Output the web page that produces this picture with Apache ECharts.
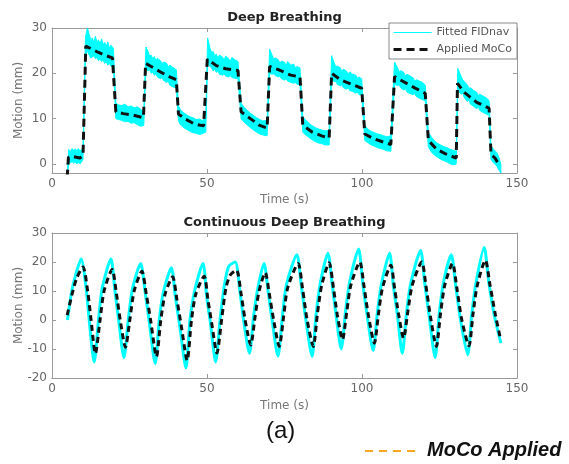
<!DOCTYPE html>
<html>
<head>
<meta charset="utf-8">
<script src="https://cdn.jsdelivr.net/npm/echarts@6/dist/echarts.min.js"></script>
<style>
  html, body { margin: 0; padding: 0; background: #fff; }
  #chart { width: 569px; height: 464px; }
</style>
</head>
<body>
<div id="chart"></div>
<script>
var timeTicks = [0, 50, 100, 150];
var deepTicks = [0, 10, 20, 30];

// Deep Breathing: applied MoCo, [time s, motion mm]
var deepMoco = [
  [4.9, -3], [5.3, 1.5], [7, 1.6], [9, 1.3], [10, 1.8],
  [10.9, 26], [13, 25.3], [15, 24.6], [17, 24], [19.5, 23.4],
  [20.6, 11.5], [23, 11.1], [26, 10.8], [29.5, 10.2],
  [30.2, 22.2], [32, 21.5], [35, 20.3], [38, 19.2], [40.1, 18.6],
  [40.8, 11], [43, 9.9], [46, 8.8], [48.9, 8.4],
  [50.1, 23.1], [53, 21.7], [56, 21], [60, 20.6],
  [61, 11.5], [64, 10], [67, 8.5], [69.4, 7.9],
  [70.2, 21.5], [73, 20.8], [77, 19.6], [80, 19.2],
  [80.9, 8.5], [84, 7], [87, 6.2], [89.4, 5.7],
  [90.2, 20], [93, 18.6], [97, 17.5], [99.9, 16.7],
  [100.9, 6.6], [104, 5.5], [107, 4.8], [109.3, 4.3],
  [110.5, 19.3], [113, 18.3], [117, 16.8], [120.4, 15.6],
  [121.4, 5.2], [124, 3.3], [127, 2.2], [130.4, 1.3],
  [130.8, 17.8], [133, 15.8], [137, 13.6], [141, 12.3],
  [141.6, 2.2], [143, 1.2], [144.3, -0.3]
];

// Deep Breathing: fitted FIDnav band, [time s, low mm, high mm]
var deepFid = [
  [5.0, -2, -1.4], [5.4, 0, 3.2], [6, 0.3, 2.8], [6.5, 0.5, 3.4], [7, 0.2, 3], [7.5, 0.4, 3.3],
  [8, 0, 2.9], [8.5, 0.3, 3.4], [9, 0, 2.8], [9.5, 0.4, 3.2], [10, 1, 3.5],
  [10.8, 24, 28], [11.4, 25, 30], [12, 24, 28.6], [12.5, 23.4, 27.3], [13, 23.6, 27.8], [13.5, 23.9, 26.9],
  [14, 23.2, 28.2], [14.5, 23.5, 26.8], [15, 22.8, 27.4], [15.5, 23.2, 26.5],
  [16, 22.6, 27.6], [16.5, 22.9, 26.4], [17, 22.2, 26.8], [17.5, 22.6, 25.9], [18, 21.8, 26.9],
  [18.5, 22.2, 25.6], [19, 21.6, 26.2], [19.8, 21.5, 25.5],
  [20.6, 10, 13.4], [21.5, 9.8, 13], [22.5, 9.6, 12.9], [23.5, 9.3, 13.2], [24.5, 9.4, 12.6],
  [25.5, 9, 12.8], [26.5, 9.1, 12.4], [27.5, 8.7, 12.6], [28.5, 8.3, 12.1], [29.6, 8.5, 11.5],
  [30.3, 21, 25.8], [31, 20.5, 24.8], [31.5, 20.8, 23.8], [32, 20, 24], [32.5, 20.3, 23.2], [33, 19.6, 23.7],
  [33.5, 19.9, 22.8], [34, 19.2, 23.3], [35, 18.8, 22.8], [35.5, 19.1, 22.1],
  [36, 18.4, 22.5], [37, 18, 22.2], [37.5, 18.3, 21.4], [38, 17.4, 21.8], [39, 17, 21.3], [40.1, 16.8, 20.8],
  [40.8, 9.5, 12.8], [41.5, 8.6, 11.9], [42.5, 8, 11.3], [43.5, 7.6, 10.8], [44.5, 7.2, 10.4],
  [45.5, 6.9, 10.2], [46.5, 6.8, 9.8], [47.5, 6.5, 9.9], [48.5, 6.7, 9.6], [49.6, 7, 10.2],
  [50.2, 22, 27.8], [51, 21.5, 25.5], [51.5, 21.2, 24.6], [52, 20.5, 24.8], [52.5, 20.9, 23.9], [53, 20.2, 24.2],
  [53.5, 20.5, 23.4], [54, 19.8, 24], [55, 19.6, 23.6], [55.5, 19.9, 22.9],
  [56, 19.4, 23.8], [57, 19.2, 23.2], [57.5, 19.5, 22.6], [58, 19.1, 23.5], [59, 18.9, 23], [60, 18.8, 22.6],
  [61, 10, 13.4], [62, 9.2, 12.5], [63, 8.6, 11.8], [64, 8, 11.2], [65, 7.5, 10.7],
  [66, 7, 10.2], [67, 6.6, 9.8], [68, 6.4, 9.5], [69.4, 6.2, 9.6],
  [70.2, 20, 25.3], [71, 19.8, 24], [71.5, 19.9, 23.1], [72, 19.5, 23.4], [73, 19.2, 23], [73.5, 19.4, 22.2],
  [74, 18.8, 22.7], [75, 18.5, 22.4], [75.5, 18.8, 21.7],
  [76, 18.3, 22.6], [77, 18, 21.8], [78, 17.8, 22], [78.5, 18, 21.2], [79, 17.6, 21.5], [80, 17.5, 21.2],
  [80.9, 7, 10.4], [82, 6.3, 9.6], [83, 5.8, 8.9], [84, 5.3, 8.4], [85, 4.9, 8],
  [86, 4.6, 7.7], [87, 4.5, 7.5], [88, 4.2, 7.3], [89.4, 4.2, 7.4],
  [90.2, 18.5, 23.9], [91, 18.2, 22.4], [91.5, 18.3, 21.5], [92, 17.6, 21.6], [93, 17.2, 21.2], [93.5, 17.5, 20.4],
  [94, 16.8, 20.9], [95, 16.5, 20.5], [95.5, 16.8, 19.8],
  [96, 16.2, 20.3], [97, 16, 19.8], [98, 15.6, 19.6], [98.5, 15.9, 18.9], [99, 15.3, 19.2], [99.9, 15.2, 18.8],
  [100.9, 5.2, 8.4], [102, 4.6, 7.6], [103, 4.2, 7.2], [104, 3.9, 6.9], [105, 3.6, 6.6],
  [106, 3.4, 6.5], [107, 3.2, 6.2], [108, 2.9, 6], [109.3, 2.8, 6.2],
  [110.5, 17.6, 22.5], [111.5, 17.3, 21.2], [112, 17.5, 20.3], [112.5, 16.8, 20.6], [113.5, 16.3, 20.2],
  [114, 16.6, 19.4], [114.5, 15.9, 19.8],
  [115.5, 15.5, 19.4], [116.5, 15.3, 19], [117, 15.5, 18.3], [117.5, 14.9, 18.6], [118.5, 14.5, 18.3],
  [119.5, 14.2, 18], [120.4, 14, 17.4],
  [121.4, 3.8, 7], [122.5, 2.5, 5.8], [123.5, 1.9, 5], [124.5, 1.4, 4.5], [125.5, 1, 4.1],
  [126.5, 0.7, 3.8], [127.5, 0.4, 3.6], [128.5, 0, 3.2], [129.5, -0.2, 3], [130.4, 0, 2.8],
  [130.9, 16.2, 21.1], [132, 15.4, 19.3], [132.5, 15.6, 18.5], [133, 14.6, 18.2], [134, 13.8, 17.4],
  [134.5, 14.1, 16.7], [135, 13.2, 16.8],
  [136, 12.7, 16.2], [137, 12.2, 15.8], [137.5, 12.5, 15.1], [138, 11.8, 15.4], [139, 11.4, 15],
  [140, 11, 14.6], [141, 10.8, 14],
  [141.6, 1, 4], [142.5, 0.2, 3.2], [143.5, -0.5, 2.5], [144.3, -1.5, 1.2], [144.8, -2, -0.2]
];

// Continuous Deep Breathing: applied MoCo
var contMoco = [
  [4.9, 1.7], [6.5, 9], [8, 14.5], [10, 18.3], [11.5, 10], [12.6, 0], [14, -11.6],
  [15.5, 0], [16.8, 10], [19.4, 17.4], [20.8, 9], [22, 0], [23.7, -9.4],
  [25.1, 0], [26.5, 10], [29, 16.8], [30.4, 9], [31.8, 0], [33.7, -12.6],
  [35.1, 0], [36.5, 9], [38.9, 14.9], [40.3, 7], [41.7, -2], [43.6, -13.9],
  [45, 0], [46.4, 9], [49.1, 15.1], [50.3, 7], [51.5, -1], [53.2, -11.4],
  [54.7, 0], [56.1, 11], [57.5, 15.5], [59.5, 17.2], [61, 9], [62.3, 0], [64.1, -8.6],
  [65.5, 1], [66.8, 10], [68.8, 16.3], [70.1, 9], [71.5, 0], [73.3, -9.1],
  [74.7, 1], [76, 11], [79.4, 19.5], [80.8, 11], [82.3, 0], [84.3, -9.1],
  [85.6, 2], [87, 12], [89.4, 19.7], [90.8, 11], [92, 2], [93.7, -6.8],
  [95.1, 3], [96.4, 12], [99.3, 20], [100.6, 12], [102, 2], [104, -8],
  [105.3, 2], [106.6, 11], [109.3, 18.9], [110.5, 11], [111.8, 2], [113.4, -6.3],
  [114.8, 3], [116.2, 12], [119.3, 20], [120.6, 12], [122.1, 1], [124, -9.1],
  [125.3, 2], [126.7, 12], [129.2, 19.5], [130.6, 11], [132.2, 0], [134.5, -8.9],
  [135.8, 2], [137.2, 12], [139.8, 20.6], [141.3, 12], [143, 2], [144.5, -5.7]
];

// Continuous Deep Breathing: fitted FIDnav
var contFid = [
  [5, 0], [6.2, 9], [7.6, 15.5], [9.4, 21], [11, 11], [12, 0], [13.6, -14.5],
  [15, 0], [16.2, 11], [19, 21], [20.3, 10], [21.5, 0], [23.2, -13],
  [24.6, 0], [26, 11], [28.6, 19.5], [30, 10], [31.3, 0], [33.3, -15],
  [34.6, 0], [36, 10], [38.5, 18], [39.8, 8], [41.2, -2], [43.2, -16.5],
  [44.5, 0], [46, 10], [48.7, 19.5], [49.9, 8], [51.1, -1], [52.8, -14.5],
  [54.2, 0], [55.6, 12], [57, 18.5], [59.1, 20], [60.6, 10], [61.8, 0], [63.7, -11.5],
  [65, 1], [66.4, 11], [68.4, 19.5], [69.7, 10], [71, 0], [72.9, -12.5],
  [74.3, 1], [75.6, 12], [79, 22.5], [80.4, 12], [81.9, 0], [83.9, -12.5],
  [85.2, 2], [86.6, 13], [89, 23], [90.4, 12], [91.6, 2], [93.3, -10],
  [94.7, 3], [96, 13], [98.9, 24.5], [100.2, 13], [101.6, 2], [103.6, -10.5],
  [104.9, 2], [106.2, 12], [108.9, 23], [110.1, 12], [111.4, 2], [113, -11.5],
  [114.4, 3], [115.8, 13], [118.9, 24], [120.2, 13], [121.7, 1], [123.6, -13],
  [124.9, 2], [126.3, 13], [128.8, 22.5], [130.2, 12], [131.8, 0], [134.1, -12],
  [135.4, 2], [136.8, 13], [139.4, 25], [140.9, 13], [142.6, 2], [144.8, -8]
];

var FONT = 'DejaVu Sans';
var BORDER = '#9a9a9a';
var CYAN = '#00ffff';

function xAxisPair(grid, gap) {
  var base = {
    gridIndex: grid, type: 'value', min: 0, max: 150, interval: 50,
    axisLine: {show: true, onZero: false, lineStyle: {color: BORDER, width: 1}},
    axisTick: {show: true, inside: true, length: 4, lineStyle: {color: BORDER}},
    splitLine: {show: false}
  };
  return [
    Object.assign({}, base, {
      position: 'bottom',
      axisLabel: {color: '#666', fontSize: 12, fontFamily: FONT, margin: 5, hideOverlap: false},
      name: 'Time (s)', nameLocation: 'middle', nameGap: gap, nameMoveOverlap: false,
      nameTextStyle: {color: '#777', fontSize: 12, fontFamily: FONT}
    }),
    Object.assign({}, base, {position: 'top', axisLabel: {show: false}})
  ];
}

function yAxisPair(grid, min, max, ticks) {
  var base = {
    gridIndex: grid, type: 'value', min: min, max: max,
    axisLine: {show: true, onZero: false, lineStyle: {color: BORDER, width: 1}},
    axisTick: {show: true, inside: true, length: 4, lineStyle: {color: BORDER}},
    splitLine: {show: false}
  };
  if (ticks) {
    base.axisTick = Object.assign({}, base.axisTick, {customValues: ticks});
  } else {
    base.interval = 10;
  }
  var label = {color: '#666', fontSize: 12, fontFamily: FONT, margin: 5};
  if (ticks) label.customValues = ticks;
  return [
    Object.assign({}, base, {
      position: 'left', axisLabel: label,
      name: 'Motion (mm)', nameLocation: 'middle', nameGap: 27, nameMoveOverlap: false,
      nameTextStyle: {color: '#777', fontSize: 12, fontFamily: FONT}
    }),
    Object.assign({}, base, {position: 'right', axisLabel: {show: false}})
  ];
}

function bandRenderer(points) {
  return function (params, api) {
    var upper = points.map(function (p) { return api.coord([p[0], p[2]]); });
    var lower = points.slice().reverse().map(function (p) { return api.coord([p[0], p[1]]); });
    return {
      type: 'polygon',
      shape: {points: upper.concat(lower)},
      style: {fill: CYAN, stroke: CYAN, lineWidth: 1}
    };
  };
}

var chart = echarts.init(document.getElementById('chart'));

chart.setOption({
  animation: false,
  backgroundColor: '#fff',
  title: [
    {text: 'Deep Breathing', left: 'center', top: 6,
      textStyle: {fontSize: 13, fontWeight: 'bold', color: '#222', fontFamily: FONT}},
    {text: 'Continuous Deep Breathing', left: 'center', top: 211,
      textStyle: {fontSize: 13, fontWeight: 'bold', color: '#222', fontFamily: FONT}}
  ],
  legend: {
    orient: 'vertical', right: 52, top: 23,
    data: [
      {name: 'Fitted FIDnav', lineStyle: {width: 1.2}},
      {name: 'Applied MoCo', lineStyle: {width: 3, type: [8, 5]}}
    ],
    itemWidth: 38, itemHeight: 10, itemGap: 6,
    itemStyle: {opacity: 0},
    padding: [4, 5, 4, 3],
    borderColor: '#888', borderWidth: 1, borderRadius: 0,
    backgroundColor: '#fff',
    selectedMode: false,
    textStyle: {fontSize: 11, color: '#555', fontFamily: FONT}
  },
  grid: [
    {left: 52, width: 465, top: 28, height: 145},
    {left: 52, width: 465, top: 233, height: 145}
  ],
  xAxis: xAxisPair(0, 21).concat(xAxisPair(1, 22)),
  yAxis: yAxisPair(0, -2, 30, deepTicks).concat(yAxisPair(1, -20, 30, null)),
  graphic: [
    {type: 'text', left: 266, top: 419,
      style: {text: '(a)', fontSize: 24, fontFamily: 'Liberation Sans', fill: '#111'}},
    {type: 'line', shape: {x1: 365, y1: 451, x2: 417, y2: 451},
      style: {stroke: '#f5a623', lineWidth: 2, lineDash: [8, 6]}},
    {type: 'text', left: 427, top: 440,
      style: {text: 'MoCo Applied', fontSize: 20, fontStyle: 'italic', fontWeight: 'bold',
        fontFamily: 'Liberation Sans', fill: '#111'}}
  ],
  series: [
    {
      name: 'Fitted FIDnav', type: 'line', xAxisIndex: 2, yAxisIndex: 2,
      data: contFid, smooth: 0.25, symbol: 'none', silent: true, z: 2,
      lineStyle: {color: CYAN, width: 3}, itemStyle: {color: CYAN}
    },
    {
      name: 'fidBand', type: 'custom', xAxisIndex: 0, yAxisIndex: 0,
      data: [[0, 0]], renderItem: bandRenderer(deepFid), silent: true, z: 2
    },
    {
      name: 'Applied MoCo', type: 'line', xAxisIndex: 0, yAxisIndex: 0,
      data: deepMoco, symbol: 'none', silent: true, z: 3,
      lineStyle: {color: '#111', width: 3, type: [8, 5]}, itemStyle: {color: '#111'}
    },
    {
      name: 'Applied MoCo', type: 'line', xAxisIndex: 2, yAxisIndex: 2,
      data: contMoco, smooth: 0.25, symbol: 'none', silent: true, z: 3,
      lineStyle: {color: '#111', width: 3, type: [6, 4]}, itemStyle: {color: '#111'}
    }
  ]
});
</script>
</body>
</html>
